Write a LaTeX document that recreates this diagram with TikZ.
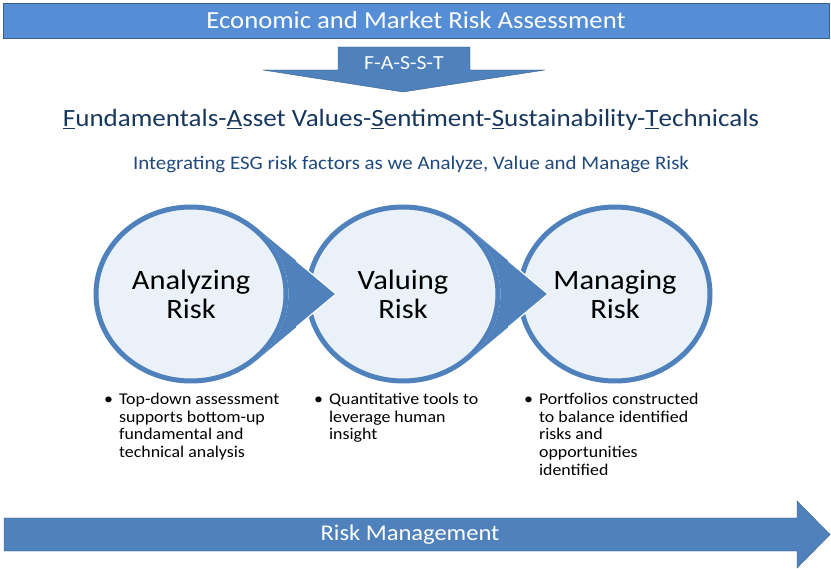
\documentclass[tikz,border=0pt]{standalone}
\usepackage{fontspec}
\setmainfont{Carlito}[FakeStretch=1.09]
\usetikzlibrary{positioning,calc,shapes.geometric}

\definecolor{barblue}{HTML}{558ED5}
\definecolor{accent}{HTML}{4F81BD}
\definecolor{edgeblue}{HTML}{385D8A}
\definecolor{bubblefill}{HTML}{EBF1F9}
\definecolor{navy}{HTML}{17375E}
\definecolor{subnavy}{HTML}{1F497D}

\begin{document}
\begin{tikzpicture}[x=1pt,y=-1pt,node distance=212pt,
    bubble/.style={ellipse,draw=accent,line width=5pt,fill=bubblefill,minimum width=190pt,
      minimum height=174pt,inner sep=0pt,align=center,font=\fontsize{28}{29}\selectfont},
    notes/.style={anchor=north west,inner sep=0pt,font=\fontsize{16.4}{17.7}\selectfont}]
    \useasboundingbox (0,0) rectangle (831,569);

    \node(banner)[rectangle,draw=edgeblue,fill=barblue,minimum width=826pt,minimum height=35pt,
      text=white,font=\fontsize{24.5}{28}\selectfont] at (416,20.5) {Economic and Market Risk Assessment};

    \draw[fill=accent,draw=edgeblue] (338,47) -- (470,47) -- (470,70) -- (545,70) -- (403,92)
      -- (263,70) -- (338,70) -- cycle;
    \node(fasst)[text=white,font=\fontsize{20}{24}\selectfont] at (404,63) {F-A-S-S-T};

    \node(factors)[anchor=base,text=navy,font=\fontsize{24.8}{29}\selectfont] at (411,127)
      {\underline{F}undamentals-\underline{A}sset Values-\underline{S}entiment-\underline{S}ustainability-\underline{T}echnicals};
    \node(esg)[anchor=base,text=subnavy,font=\fontsize{19.2}{23}\selectfont] at (411,170)
      {Integrating ESG risk factors as we Analyze, Value and Manage Risk};

    \node(analyzing)[bubble] at (191,294) {Analyzing\\Risk};
    \node(valuing)[bubble,right of=analyzing] {Valuing\\Risk};
    \node(managing)[bubble,right of=valuing] {Managing\\Risk};

    % pointers from one bubble into the next
    \foreach \from in {analyzing,valuing} {
      \coordinate(up) at ($(\from.center)+(47.8:97.5pt and 89.5pt)$);
      \coordinate(down) at ($(\from.center)+(-47.8:97.5pt and 89.5pt)$);
      \coordinate(tip) at ($(\from.center)+(145pt,0pt)$);
      \fill[accent] (up) -- (tip) -- (down) arc[start angle=-47.8,end angle=47.8,x radius=97.5pt,y radius=89.5pt] -- cycle;
      \draw[white,line width=1.2pt] ($(up)!0.5!(tip)$) -- (tip) -- ($(down)!0.5!(tip)$);
    }

    \node(analyzingnote)[notes] at (104,392) {\begin{tabular}{@{}l@{\hspace{6pt}}l@{}}
      \textbullet & Top-down assessment\\ & supports bottom-up\\ & fundamental and\\ & technical analysis\end{tabular}};
    \node(valuingnote)[notes] at (314,392) {\begin{tabular}{@{}l@{\hspace{6pt}}l@{}}
      \textbullet & Quantitative tools to\\ & leverage human\\ & insight\end{tabular}};
    \node(managingnote)[notes] at (524,392) {\begin{tabular}{@{}l@{\hspace{6pt}}l@{}}
      \textbullet & Portfolios constructed\\ & to balance identified\\ & risks and\\ & opportunities\\ & identified\end{tabular}};

    \draw[fill=accent,draw=edgeblue] (4,518) -- (797,518) -- (797,501) -- (830,534.5) -- (797,568)
      -- (797,551) -- (4,551) -- cycle;
    \node(riskmgmt)[text=white,font=\fontsize{22.5}{27}\selectfont] at (410,535) {Risk Management};
  \end{tikzpicture}
\end{document}
